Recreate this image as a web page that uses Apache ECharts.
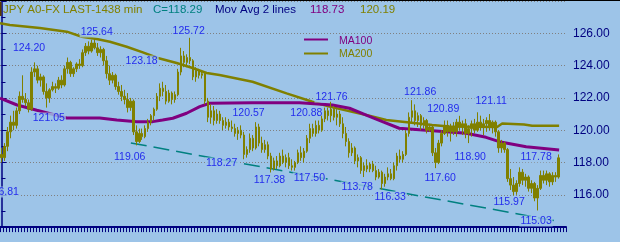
<!DOCTYPE html>
<html><head><meta charset="utf-8">
<script src="https://cdn.jsdelivr.net/npm/echarts@6/dist/echarts.min.js"></script>
<style>html,body{margin:0;padding:0;background:#9dc4e8}#c{width:620px;height:242px}</style>
</head><body><div id="c"></div>
<script>
// ---- data ----
const opens = [118.5,118.3,119.0,119.9,120.5,120.3,121.2,122.1,121.9,121.7,121.3,123.6,123.8,123.1,123.3,122.4,122.0,122.5,122.7,122.6,
123.1,122.8,123.8,124.2,123.5,123.8,124.1,124.0,124.8,125.2,124.9,125.4,125.1,124.8,125.0,124.3,123.5,123.1,123.4,122.7,
122.4,122.1,121.9,121.4,121.8,119.9,119.3,119.8,119.6,120.1,120.5,120.9,121.3,122.1,122.6,122.4,121.8,122.3,121.9,122.2,
123.6,124.6,124.2,124.5,124.3,123.3,123.7,123.4,123.5,121.8,120.8,121.2,120.6,121.0,120.6,120.3,120.5,120.2,120.1,119.8,
120.0,119.7,118.5,118.8,119.5,118.9,120.2,119.2,118.8,119.1,118.4,117.6,118.1,117.8,118.4,118.0,118.3,117.8,117.7,118.0,
118.6,118.3,118.7,119.5,120.1,119.8,120.3,120.0,120.7,121.2,120.9,121.3,120.8,121.0,120.4,119.8,119.3,118.6,118.9,118.1,
118.3,117.5,117.8,117.6,117.9,117.5,117.1,117.4,116.7,117.1,117.3,117.0,117.8,118.4,118.2,118.5,119.8,120.8,121.2,120.6,
120.9,120.3,120.6,120.0,120.2,118.6,118.0,119.2,119.8,120.3,119.9,120.2,119.9,120.5,120.2,120.4,119.8,120.1,120.4,120.0,
120.5,120.2,120.4,120.6,120.2,120.5,119.9,118.9,119.2,118.8,117.0,116.6,116.2,116.7,117.4,116.9,117.1,116.4,116.7,115.8,
116.4,117.2,116.9,117.3,116.8,117.2,117.1];
const highs = [118.9,119.2,120.2,120.9,121.2,121.4,122.4,123.4,122.3,121.9,123.9,124.2,124.0,123.5,123.4,122.9,122.6,123.0,122.9,123.3,
123.4,124.0,124.5,124.3,123.9,124.2,124.4,125.0,125.4,125.5,125.6,125.64,125.4,125.2,125.1,124.6,124.0,123.6,123.5,123.0,
122.8,122.5,122.3,122.0,121.9,120.3,120.1,120.1,120.3,120.7,121.0,121.4,122.3,122.9,123.0,122.8,122.5,122.4,122.4,123.8,
125.1,124.9,124.7,125.72,124.4,123.9,123.8,123.7,123.6,122.0,121.6,121.5,121.3,121.2,120.8,120.8,120.7,120.6,120.4,120.2,
120.3,119.9,119.0,119.8,119.7,120.5,120.4,119.6,119.4,119.3,118.6,118.3,118.4,118.6,118.8,118.5,118.6,118.2,118.1,118.8,
119.0,118.9,119.7,120.4,120.4,120.6,120.6,120.9,121.4,121.4,121.76,121.5,121.3,121.2,120.8,120.2,119.5,119.2,119.0,118.5,
118.4,118.0,118.2,118.0,118.1,117.8,117.6,117.5,117.3,117.7,117.6,118.0,118.6,118.8,118.7,120.0,121.1,121.86,121.6,121.1,
121.0,120.8,120.7,120.4,120.3,118.9,119.4,120.0,120.6,120.6,120.4,120.5,120.7,120.89,120.6,120.7,120.3,120.6,120.7,121.11,
120.9,120.7,120.8,121.0,120.6,120.6,120.0,119.4,119.3,118.9,117.6,117.1,116.9,117.7,117.6,117.3,117.2,116.9,116.8,116.6,
117.5,117.5,117.5,117.4,117.4,117.4,118.5];
const lows = [118.0,118.1,118.7,119.5,120.0,120.1,121.0,121.7,121.5,121.1,121.2,123.3,122.9,122.7,122.2,121.4,121.7,122.4,122.3,122.5,
122.6,122.7,123.5,123.3,123.3,123.6,123.8,123.9,124.6,124.7,124.8,125.0,124.6,124.5,124.0,123.2,122.8,122.9,122.5,122.2,
121.8,121.6,121.1,121.2,119.7,119.06,119.2,119.4,119.5,119.9,120.3,120.6,121.2,121.8,122.1,121.6,121.7,121.6,121.7,122.1,
123.4,123.9,123.9,124.1,123.1,123.0,123.2,123.2,121.6,120.5,120.4,120.3,120.4,120.4,120.0,120.1,120.0,119.9,119.6,119.4,
119.5,118.2,118.3,118.6,118.7,118.8,119.0,118.6,118.6,118.2,117.38,117.5,117.6,117.7,117.9,117.7,117.6,117.5,117.5,117.9,
118.1,118.0,118.6,119.2,119.6,119.6,119.8,119.9,120.5,120.6,120.5,120.6,120.3,120.2,119.5,119.0,118.3,118.4,117.9,117.7,
117.3,117.1,117.4,117.4,117.4,116.9,117.0,116.33,116.5,116.9,116.9,116.9,117.5,118.0,118.0,118.4,119.6,120.5,120.3,120.2,
120.0,120.1,119.8,119.9,118.4,117.65,117.9,119.0,119.7,119.6,119.3,119.7,119.6,120.0,119.7,119.5,119.2,119.6,119.8,119.9,
120.0,119.7,119.9,120.0,119.8,119.6,118.6,118.6,118.6,116.8,116.3,115.97,116.0,116.5,116.6,116.5,116.2,116.1,115.6,115.03,
116.3,116.7,116.6,116.5,116.6,116.8,117.0];
const closes = [118.3,119.0,119.9,120.5,120.3,121.2,122.1,121.9,121.7,121.3,123.6,123.8,123.1,123.3,122.4,122.0,122.5,122.7,122.6,123.1,
122.8,123.8,124.2,123.5,123.8,124.1,124.0,124.8,125.2,124.9,125.4,125.1,124.8,125.0,124.3,123.5,123.1,123.4,122.7,122.4,
122.1,121.9,121.4,121.8,119.9,119.3,119.8,119.6,120.1,120.5,120.9,121.3,122.1,122.6,122.4,121.8,122.3,121.9,122.2,123.6,
124.6,124.2,124.5,124.3,123.3,123.7,123.4,123.5,121.8,120.8,121.2,120.6,121.0,120.6,120.3,120.5,120.2,120.1,119.8,120.0,
119.7,118.5,118.8,119.5,118.9,120.2,119.2,118.8,119.1,118.4,117.6,118.1,117.8,118.4,118.0,118.3,117.8,117.7,118.0,118.6,
118.3,118.7,119.5,120.1,119.8,120.3,120.0,120.7,121.2,120.9,121.3,120.8,121.0,120.4,119.8,119.3,118.6,118.9,118.1,118.3,
117.5,117.8,117.6,117.9,117.5,117.1,117.4,116.7,117.1,117.3,117.0,117.8,118.4,118.2,118.5,119.8,120.8,121.2,120.6,120.9,
120.3,120.6,120.0,120.2,118.6,118.0,119.2,119.8,120.3,119.9,120.2,119.9,120.5,120.2,120.4,119.8,120.1,120.4,120.0,120.5,
120.2,120.4,120.6,120.2,120.5,119.9,118.9,119.2,118.8,117.0,116.6,116.2,116.7,117.4,116.9,117.1,116.4,116.7,115.8,116.4,
117.2,116.9,117.3,116.8,117.2,117.1,118.29];

// moving averages: [bar position, value]
const ma100 = [[-0.5,121.99],[5.2,121.56],[11.8,121.24],[21.8,120.76],[32.8,120.76],[38.5,120.63],[45.2,120.53],[50.5,120.53],
[53.8,120.63],[57.2,120.74],[61.8,121.05],[66.2,121.46],[69.5,121.67],[83.8,121.70],[99.5,121.70],[110.5,121.56],[116.2,121.36],
[121.8,120.94],[127.2,120.53],[132.8,120.12],[144,119.97],[155.2,119.81],[161.8,119.56],[166.2,119.29],[175.2,118.98],[186.2,118.77]];
const ma200 = [[-0.5,126.63],[2.8,126.51],[12.8,126.33],[21.8,126.10],[26.8,125.79],[31.8,125.65],[36.2,125.48],[41.8,125.17],
[47.2,124.82],[52.2,124.47],[58.5,124.16],[63.8,123.85],[68.5,123.54],[72.8,123.42],[83.8,123.00],[95.2,122.28],[103.8,121.76],
[109.5,121.46],[121.8,120.94],[128.5,120.63],[138.5,120.43],[143.8,120.32],[149.5,120.23],[165.5,120.20],[167.2,120.41],
[174.5,120.35],[177.2,120.28],[186.2,120.28]];
const trend = [[43.2,119.21],[185.2,114.38]];

// price annotations
const labelTexts  = ['124.20','125.64','123.18','125.72','121.05','119.06','120.57','118.27','117.38','120.88','121.76','117.50',
'113.78','116.33','121.86','120.89','117.60','118.90','121.11','115.97','117.78','115.03','116.81'];
const labelBars   = [9.2,31.8,46.8,62.5,15.8,42.8,82.5,73.5,89.5,101.8,110.2,102.8,118.8,129.8,139.8,147.5,146.5,156.5,163.5,169.5,178.5,178.5,0.6];
const labelLevels = [125.09,126.08,124.28,126.14,120.76,118.34,121.07,117.97,116.92,121.07,122.06,117.04,116.48,115.86,122.33,121.31,
117.04,118.34,121.81,115.55,118.34,114.38,116.17];

const yTicks = {min:114, max:128, step:2};
const slotCount = 189;

// ---- chart ----
const BG = '#9dc4e8', OLIVE = '#808000', PURPLE = '#800080', NAVY = '#000080', TEAL = '#008080', BLUE = '#0000ee';
const FONT = '"Liberation Sans", Arial, sans-serif';
const cats = Array.from({length: slotCount}, (_, i) => String(i));
const candles = opens.map((o, i) => [o, closes[i], lows[i], highs[i]]);
const labelData = labelTexts.map((t, i) => ({value: [labelBars[i], labelLevels[i]], name: t}));

const chart = echarts.init(document.getElementById('c'), null, {renderer: 'canvas'});
chart.setOption({
  animation: false,
  backgroundColor: BG,
  grid: {left: 0, right: 54, top: 1, bottom: 14.9, containLabel: false},
  xAxis: [{
    type: 'category', data: cats, boundaryGap: true,
    axisLine: {lineStyle: {color: NAVY, width: 2}},
    axisTick: {show: true, interval: 0, length: 5, lineStyle: {color: NAVY, width: 1}},
    axisLabel: {show: false}, splitLine: {show: false}
  }, {
    type: 'value', min: -0.5, max: slotCount - 0.5, show: false
  }],
  yAxis: {
    type: 'value', position: 'right', min: yTicks.min, max: yTicks.max, interval: yTicks.step,
    axisLine: {show: true, lineStyle: {color: NAVY, width: 1.5}},
    axisTick: {show: true, length: 5, lineStyle: {color: NAVY}},
    minorTick: {show: true, splitNumber: 2, length: 4, lineStyle: {color: NAVY}},
    axisLabel: {color: NAVY, fontSize: 12, fontFamily: FONT, margin: 7, showMinLabel: false, showMaxLabel: false,
      formatter: v => v.toFixed(2)},
    splitLine: {show: true, lineStyle: {color: '#808080', type: [1, 2], width: 1}}
  },
  series: [
    {type: 'line', name: 'MA200', xAxisIndex: 1, data: ma200, symbol: 'none', z: 1,
      lineStyle: {color: OLIVE, width: 2.5}},
    {type: 'line', name: 'MA100', xAxisIndex: 1, data: ma100, symbol: 'none', z: 1,
      lineStyle: {color: PURPLE, width: 3}},
    {type: 'line', name: 'trend', xAxisIndex: 1, data: trend, symbol: 'none', z: 1,
      lineStyle: {color: TEAL, width: 1.5, type: [16, 7]}},
    {type: 'scatter', xAxisIndex: 1, data: labelData, symbolSize: 1, z: 2,
      itemStyle: {color: 'rgba(0,0,0,0)'},
      label: {show: true, position: 'inside', formatter: p => p.name, color: BLUE, fontSize: 10.5,
        fontFamily: FONT, backgroundColor: BG, padding: [0, 1]}},
    {type: 'candlestick', xAxisIndex: 0, data: candles, barWidth: 2, z: 3,
      itemStyle: {color: OLIVE, color0: OLIVE, borderColor: OLIVE, borderColor0: OLIVE, borderWidth: 1}}
  ],
  graphic: [
    {type: 'rect', shape: {x: 0, y: 0, width: 620, height: 1}, style: {fill: '#000'}, z: 10},
    {type: 'rect', shape: {x: 0, y: 2, width: 1.5, height: 14}, style: {fill: '#5c3c00'}, z: 10},
    {type: 'text', x: 3, y: 10, z: 10, style: {text: 'JPY A0-FX LAST-1438 min', fill: OLIVE, font: '11.5px ' + FONT, verticalAlign: 'middle'}},
    {type: 'text', x: 153, y: 10, z: 10, style: {text: 'C=118.29', fill: TEAL, font: '11.5px ' + FONT, verticalAlign: 'middle'}},
    {type: 'text', x: 215, y: 10, z: 10, style: {text: 'Mov Avg 2 lines', fill: NAVY, font: '11.5px ' + FONT, verticalAlign: 'middle'}},
    {type: 'text', x: 310, y: 10, z: 10, style: {text: '118.73', fill: PURPLE, font: '11.5px ' + FONT, verticalAlign: 'middle'}},
    {type: 'text', x: 360, y: 10, z: 10, style: {text: '120.19', fill: OLIVE, font: '11.5px ' + FONT, verticalAlign: 'middle'}},
    {type: 'rect', shape: {x: 304, y: 38.5, width: 24, height: 2}, style: {fill: PURPLE}, z: 10},
    {type: 'text', x: 339, y: 41, z: 10, style: {text: 'MA100', fill: PURPLE, font: '10.5px ' + FONT, verticalAlign: 'middle'}},
    {type: 'rect', shape: {x: 304, y: 52.5, width: 24, height: 2}, style: {fill: OLIVE}, z: 10},
    {type: 'text', x: 339, y: 54, z: 10, style: {text: 'MA200', fill: OLIVE, font: '10.5px ' + FONT, verticalAlign: 'middle'}}
  ]
});
</script></body></html>
